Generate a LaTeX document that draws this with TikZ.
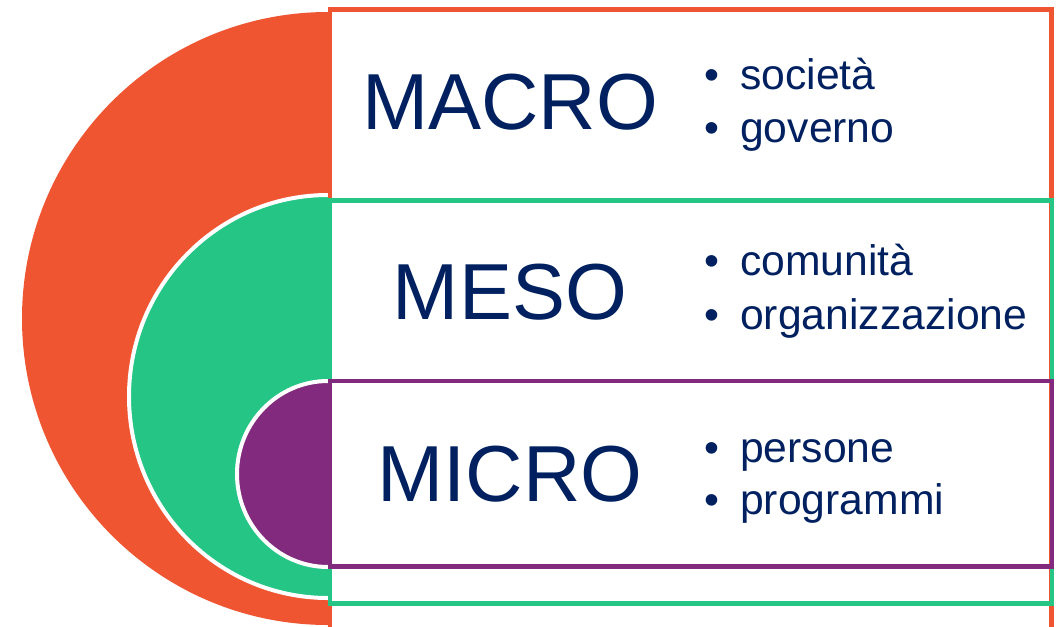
\documentclass[tikz,border=0pt]{standalone}
\usepackage{fontspec}
\setmainfont{Liberation Sans}
\definecolor{macroC}{RGB}{240,85,50}
\definecolor{mesoC}{RGB}{36,197,133}
\definecolor{microC}{RGB}{130,42,126}
\definecolor{navy}{RGB}{0,32,96}
\tikzset{
  bigtxt/.style={font=\fontsize{59.6}{59.6}\selectfont, text=navy, inner sep=0pt, anchor=base},
  itemtxt/.style={font=\fontsize{32}{32}\selectfont, text=navy, inner sep=0pt, anchor=base west},
  dottxt/.style={font=\fontsize{32}{32}\selectfont, text=navy, inner sep=0pt, anchor=base},
  framebox/.style={line width=3.4pt},
  whiteedge/.style={draw=white, line width=3pt}
}
\begin{document}
\begin{tikzpicture}[x=0.75pt,y=-0.75pt]
\useasboundingbox (0,0) rectangle (1060,626);
\clip (0,0) rectangle (1060,626);
% half discs
\begin{scope}
  \clip (0,0) rectangle (328,626);
  \fill[macroC] (328,318.5) ellipse[x radius=306, y radius=306.5];
  \filldraw[fill=mesoC, whiteedge] (328,396.5) ellipse[x radius=199, y radius=201.5];
  \filldraw[fill=microC, whiteedge] (328,474) ellipse[x radius=91, y radius=93];
\end{scope}
% frames
\draw[framebox, draw=macroC] (330,9.5) rectangle (1051.5,660);
\draw[framebox, draw=mesoC] (330,200.5) rectangle (1052,603.5);
\draw[framebox, draw=microC] (330,381) rectangle (1052,566.5);
% labels
\node[bigtxt] (macro) at (510,129) {MACRO};
\node[bigtxt] (meso) at (510,319) {MESO};
\node[bigtxt] (micro) at (510,501) {MICRO};
% items
\node[dottxt] (d1) at (712,89) {•};
\node[itemtxt] (t1) at (740,89) {società};
\node[dottxt] (d2) at (712,142) {•};
\node[itemtxt] (t2) at (740,142) {governo};
\node[dottxt] (d3) at (712,275) {•};
\node[itemtxt] (t3) at (740,275) {comunità};
\node[dottxt] (d4) at (712,329) {•};
\node[itemtxt] (t4) at (740,329) {organizzazione};
\node[dottxt] (d5) at (712,462) {•};
\node[itemtxt] (t5) at (740,462) {persone};
\node[dottxt] (d6) at (712,514) {•};
\node[itemtxt] (t6) at (740,514) {programmi};
\end{tikzpicture}
\end{document}
